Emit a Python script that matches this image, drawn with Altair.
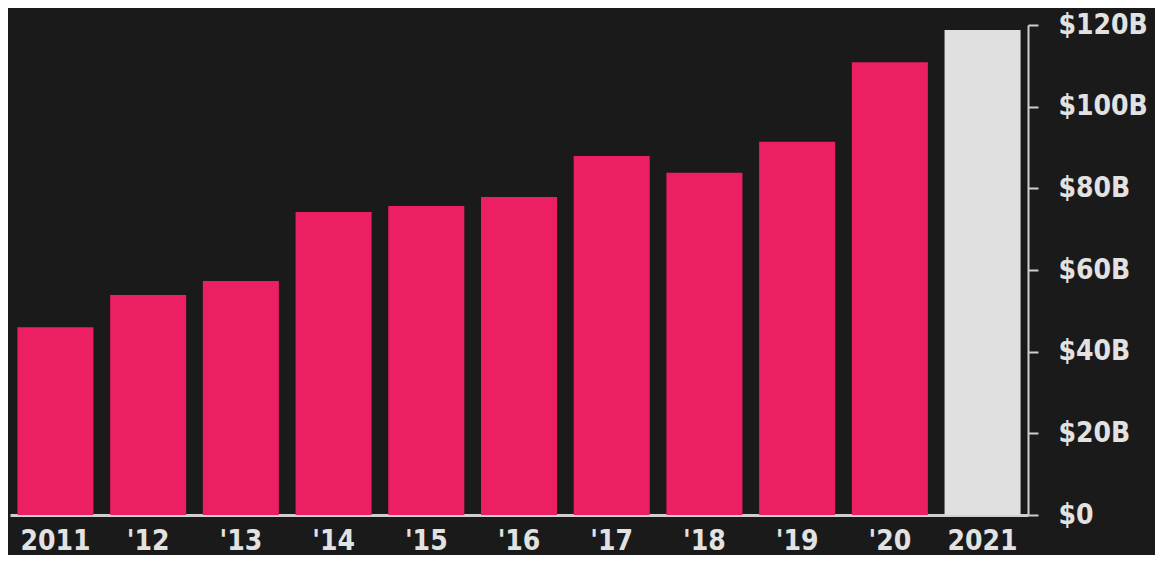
import altair as alt
import pandas as pd

years = ["2011", "'12", "'13", "'14", "'15", "'16", "'17", "'18", "'19", "'20", "2021"]
values = [46.0, 53.9, 57.3, 74.2, 75.7, 77.9, 87.9, 83.8, 91.4, 110.9, 118.8]
highlight = ["past"] * 10 + ["current"]

df = pd.DataFrame({"year": years, "value": values, "kind": highlight})

FONT = "DejaVu Sans Condensed"

chart = alt.Chart(df).mark_bar().encode(
    x=alt.X("year:N", sort=years, title=None,
            scale=alt.Scale(paddingInner=0.18, paddingOuter=0.08),
            axis=alt.Axis(orient="bottom", labelAngle=0, ticks=False,
                          domainColor="#cfcfcf", domainWidth=3,
                          labelColor="#e2e2e2", labelFont=FONT, labelFontSize=28,
                          labelFontWeight="bold", labelPadding=12)),
    y=alt.Y("value:Q", title=None,
            scale=alt.Scale(domain=[0, 120], nice=False),
            axis=alt.Axis(orient="right", values=[0, 20, 40, 60, 80, 100, 120],
                          labelExpr="datum.value == 0 ? '$0' : '$' + datum.value + 'B'",
                          domainColor="#cfcfcf", domainWidth=2,
                          tickColor="#cfcfcf", tickWidth=2, tickSize=10,
                          labelColor="#e2e2e2", labelFont=FONT, labelFontSize=28,
                          labelFontWeight="bold", labelPadding=20, grid=False)),
    color=alt.Color("kind:N", legend=None,
                    scale=alt.Scale(domain=["past", "current"], range=["#ec1f63", "#e0e0e0"])),
).properties(
    width=1018, height=490,
    background="#1a1a1a",
    padding={"left": 2, "top": 17, "right": 127, "bottom": 40},
    autosize=alt.AutoSizeParams(type="none"),
).configure_view(stroke=None)

chart.save("out.html", embed_options={"renderer": "svg", "actions": False})
